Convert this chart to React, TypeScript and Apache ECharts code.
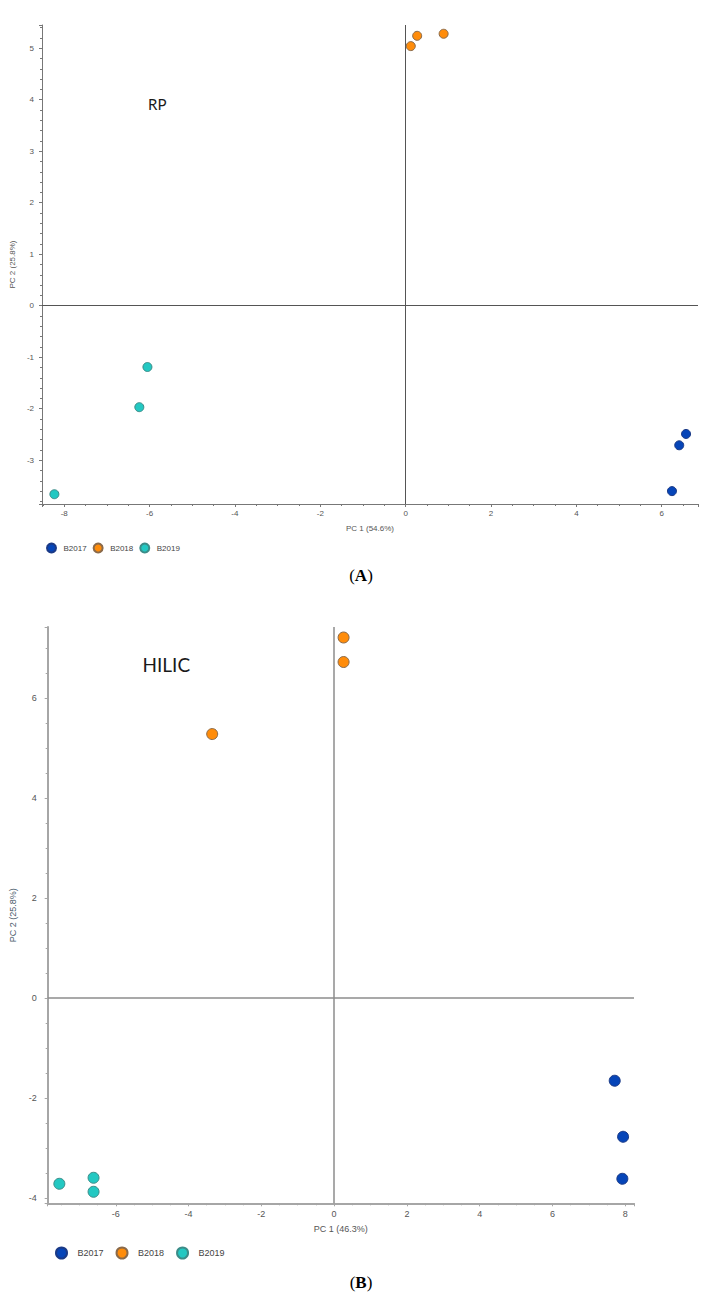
import React, { useEffect, useRef } from "react";
import * as echarts from "echarts";

const seriesNames = ["B2017", "B2018", "B2019"];
const seriesColors = ["#0645B8", "#FF8C0A", "#23C8C2"];
const borderColors = ["#1B3A86", "#8A6A4A", "#3C8C88"];

// RP panel (A)
const rpB2017 = [[6.57, -2.49], [6.41, -2.71], [6.24, -3.6]];
const rpB2018 = [[0.27, 5.24], [0.12, 5.04], [0.89, 5.28]];
const rpB2019 = [[-6.05, -1.19], [-6.24, -1.97], [-8.23, -3.66]];

// HILIC panel (B)
const hilicB2017 = [[7.71, -1.65], [7.94, -2.77], [7.92, -3.61]];
const hilicB2018 = [[0.26, 7.21], [0.26, 6.72], [-3.35, 5.28]];
const hilicB2019 = [[-7.55, -3.71], [-6.61, -3.59], [-6.61, -3.87]];

const rpXRange = [-8.52, 6.85];
const rpYRange = [-3.85, 5.45];
const hilicXRange = [-7.87, 8.24];
const hilicYRange = [-4.1, 7.42];

const rpXName = "PC 1 (54.6%)";
const rpYName = "PC 2 (25.8%)";
const hilicXName = "PC 1 (46.3%)";
const hilicYName = "PC 2 (25.8%)";

const FONT = "'Liberation Sans', Arial, sans-serif";

function multipleOf(step: number) {
  return (v: number) => {
    const r = v / step;
    return Math.abs(r - Math.round(r)) < 1e-6 ? String(Math.round(v * 100) / 100) : "";
  };
}

function makeAxis(opts: any) {
  const {
    gridIndex, range, step, minorSplit, name, nameGap, fontSize, lineColor, lineWidth, labelMargin, nameColor,
  } = opts;
  return {
    type: "value",
    gridIndex,
    min: range[0],
    max: range[1],
    minInterval: step,
    maxInterval: step,
    splitNumber: 8,
    name,
    nameLocation: "middle",
    nameGap,
    nameTextStyle: { fontSize, color: nameColor, fontFamily: FONT },
    axisLine: { show: true, onZero: false, lineStyle: { color: lineColor, width: lineWidth } },
    axisTick: { show: true, length: 3, lineStyle: { color: lineColor, width: 1 } },
    minorTick: { show: true, splitNumber: minorSplit, length: 2, lineStyle: { color: lineColor, width: 1 } },
    splitLine: { show: false },
    minorSplitLine: { show: false },
    axisLabel: {
      formatter: multipleOf(step),
      fontSize,
      color: "#555",
      fontFamily: FONT,
      margin: labelMargin,
    },
  };
}

function scatter(name: string, data: number[][], idx: number, gridIdx: number, size: number, withLines?: any) {
  const s: any = {
    type: "scatter",
    name,
    data,
    xAxisIndex: gridIdx,
    yAxisIndex: gridIdx,
    symbol: "circle",
    symbolSize: size,
    itemStyle: { color: seriesColors[idx], borderColor: borderColors[idx], borderWidth: 1, opacity: 1 },
    emphasis: { disabled: true },
    z: 5,
  };
  if (withLines) {
    s.markLine = {
      silent: true,
      symbol: "none",
      label: { show: false },
      emphasis: { disabled: true },
      lineStyle: { color: withLines.color, width: withLines.width, type: "solid", opacity: 1 },
      data: [{ xAxis: 0 }, { yAxis: 0 }],
      z: 1,
    };
  }
  return s;
}

export default function App() {
  const ref = useRef<HTMLDivElement>(null);
  useEffect(() => {
    if (!ref.current) return;
    const chart = echarts.init(ref.current, undefined, { renderer: "svg" });
    const option: any = {
      animation: false,
      backgroundColor: "#ffffff",
      grid: [
        { left: 38.5, top: 25, width: 659.5, height: 479, containLabel: false },
        { left: 47.7, top: 627, width: 586.3, height: 576.3, containLabel: false },
      ],
      xAxis: [
        makeAxis({ gridIndex: 0, range: rpXRange, step: 2, minorSplit: 4, name: rpXName, nameGap: 20, fontSize: 8, lineColor: "#777", lineWidth: 1, labelMargin: 5, nameColor: "#555" }),
        makeAxis({ gridIndex: 1, range: hilicXRange, step: 2, minorSplit: 4, name: hilicXName, nameGap: 21, fontSize: 9, lineColor: "#a6a6a6", lineWidth: 2, labelMargin: 6, nameColor: "#555" }),
      ],
      yAxis: [
        makeAxis({ gridIndex: 0, range: rpYRange, step: 1, minorSplit: 5, name: rpYName, nameGap: 17, fontSize: 8, lineColor: "#777", lineWidth: 1, labelMargin: 8, nameColor: "#555" }),
        makeAxis({ gridIndex: 1, range: hilicYRange, step: 2, minorSplit: 4, name: hilicYName, nameGap: 23, fontSize: 9, lineColor: "#a6a6a6", lineWidth: 2, labelMargin: 11, nameColor: "#4a5a6a" }),
      ],
      legend: [
        {
          data: seriesNames,
          icon: "circle",
          left: 41,
          top: 537.5,
          itemWidth: 14,
          itemHeight: 9,
          itemGap: 6,
          textStyle: { fontSize: 8, color: "#444", fontFamily: FONT },
          selectedMode: false,
        },
        {
          data: seriesNames,
          icon: "circle",
          left: 50,
          top: 1241.5,
          itemWidth: 22,
          itemHeight: 11,
          itemGap: 12,
          textStyle: { fontSize: 9, color: "#444", fontFamily: FONT },
          selectedMode: false,
        },
      ],
      graphic: [
        {
          type: "text",
          x: 148,
          y: 104,
          style: { text: "RP", font: "15px Lato, 'Open Sans', sans-serif", fill: "#1a1a1a", verticalAlign: "middle" },
        },
        {
          type: "text",
          x: 142.5,
          y: 664,
          style: { text: "HILIC", font: "19px Lato, 'Open Sans', sans-serif", fill: "#1a1a1a", verticalAlign: "middle" },
        },
        {
          type: "text",
          x: 361,
          y: 575,
          style: {
            text: "{a|(}{b|A}{a|)}",
            align: "center",
            verticalAlign: "middle",
            rich: {
              a: { fontSize: 17, fontFamily: "'Liberation Serif', serif", fill: "#000" },
              b: { fontSize: 17, fontWeight: "bold", fontFamily: "'Liberation Serif', serif", fill: "#000" },
            },
          },
        },
        {
          type: "text",
          x: 361,
          y: 1282,
          style: {
            text: "{a|(}{b|B}{a|)}",
            align: "center",
            verticalAlign: "middle",
            rich: {
              a: { fontSize: 17, fontFamily: "'Liberation Serif', serif", fill: "#000" },
              b: { fontSize: 17, fontWeight: "bold", fontFamily: "'Liberation Serif', serif", fill: "#000" },
            },
          },
        },
      ],
      series: [
        scatter(seriesNames[0], rpB2017, 0, 0, 9, { color: "#555", width: 1 }),
        scatter(seriesNames[1], rpB2018, 1, 0, 9),
        scatter(seriesNames[2], rpB2019, 2, 0, 9),
        scatter(seriesNames[0], hilicB2017, 0, 1, 11, { color: "#8c8c8c", width: 1.5 }),
        scatter(seriesNames[1], hilicB2018, 1, 1, 11),
        scatter(seriesNames[2], hilicB2019, 2, 1, 11),
      ],
    };
    chart.setOption(option);
    return () => chart.dispose();
  }, []);
  return (
    <div
      ref={ref}
      style={{ position: "absolute", left: 0, top: 0, width: 726, height: 1301, background: "#fff" }}
    />
  );
}
